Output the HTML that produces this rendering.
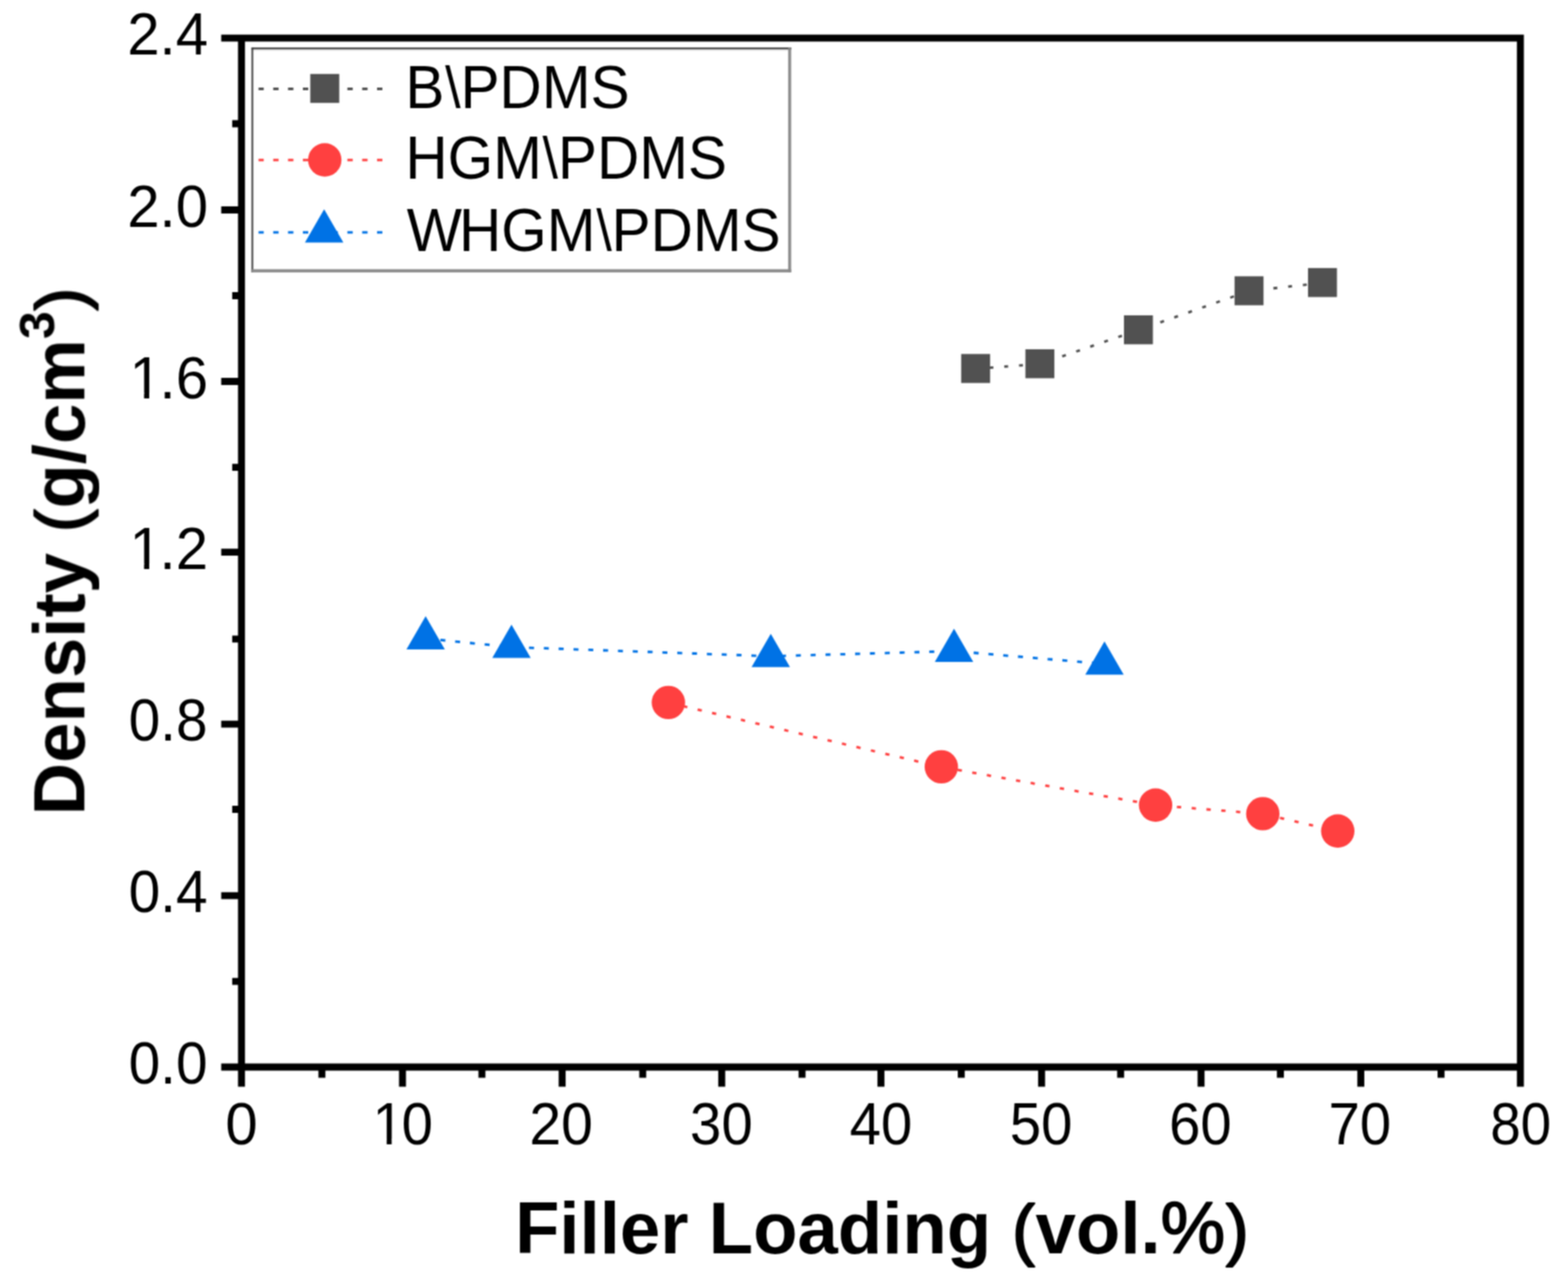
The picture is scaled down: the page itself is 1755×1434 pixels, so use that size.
<!DOCTYPE html>
<html lang="en"><head><meta charset="utf-8"><title>Density vs Filler Loading</title>
<style>
html,body{margin:0;padding:0;background:#fff;}
body{width:1755px;height:1434px;overflow:hidden;}
svg{display:block;}
text{font-family:"Liberation Sans",sans-serif;fill:#000;}
.tk{font-size:65px;}
.lg{font-size:65.5px;}
.ti{font-size:81.3px;font-weight:bold;}
.fb{font-weight:normal;stroke:#000;stroke-linejoin:round;}
</style></head><body>
<svg width="1755" height="1434" viewBox="0 0 1755 1434" role="img" aria-labelledby="ct cd">
<title id="ct">Density (g/cm3) versus Filler Loading (vol.%)</title>
<desc id="cd">Scatter-line chart with three series: B\PDMS, HGM\PDMS and WHGM\PDMS. X axis: Filler Loading (vol.%), 0 to 80. Y axis: Density (g/cm3), 0.0 to 2.4.</desc>
<rect x="0" y="0" width="1755" height="1434" fill="#fff"/>
<defs><filter id="soft" x="0" y="0" width="1755" height="1434" filterUnits="userSpaceOnUse" color-interpolation-filters="sRGB"><feConvolveMatrix order="3" kernelMatrix="1 2 1 2 4 2 1 2 1" edgeMode="duplicate" preserveAlpha="false"/></filter></defs>
<g filter="url(#soft)">
<g id="series-lines">
<polyline points="1092,412.8 1163.9,407.5 1274.2,369.5 1398,325.8 1480.2,316.6" fill="none" stroke="#515151" stroke-width="2.8" stroke-dasharray="4.4 12.2" stroke-dashoffset="1.1"/>
<polyline points="748.1,786.6 1053.6,858.6 1293.4,901.4 1413.4,911.1 1497.3,930.5" fill="none" stroke="#ff4040" stroke-width="2.8" stroke-dasharray="4.8 11.8" stroke-dashoffset="-0.4"/>
<polyline points="476.4,714.8 572.5,724.4 862.7,734.6 1067.8,728.9 1236.2,743.2" fill="none" stroke="#0072e5" stroke-width="2.8" stroke-dasharray="5.6 11" stroke-dashoffset="0"/>
</g>
<g id="series-markers">
<rect x="1075.8" y="396.3" width="32.4" height="32.4" fill="#515151"/>
<rect x="1147.7" y="391" width="32.4" height="32.4" fill="#515151"/>
<rect x="1258" y="353" width="32.4" height="32.4" fill="#515151"/>
<rect x="1381.8" y="309.3" width="32.4" height="32.4" fill="#515151"/>
<rect x="1464" y="300.1" width="32.4" height="32.4" fill="#515151"/>
<circle cx="748.1" cy="786.4" r="18.7" fill="#ff4040"/>
<circle cx="1053.6" cy="858.4" r="18.7" fill="#ff4040"/>
<circle cx="1293.4" cy="901.2" r="18.7" fill="#ff4040"/>
<circle cx="1413.4" cy="910.9" r="18.7" fill="#ff4040"/>
<circle cx="1497.3" cy="930.3" r="18.7" fill="#ff4040"/>
<polygon points="476.4,689.63 497.9,726.93 454.9,726.93" fill="#0072e5"/>
<polygon points="572.5,699.23 594,736.53 551,736.53" fill="#0072e5"/>
<polygon points="862.7,709.43 884.2,746.73 841.2,746.73" fill="#0072e5"/>
<polygon points="1067.8,703.73 1089.3,741.03 1046.3,741.03" fill="#0072e5"/>
<polygon points="1236.2,718.03 1257.7,755.33 1214.7,755.33" fill="#0072e5"/>
</g>
<path id="axes" fill="#000" fill-rule="nonzero" d="M247.6 38.7h1458v7.8h-1458zM247.6 1190.6h1458v7.8h-1458zM266.4 38.7h7.8v1177.9h-7.8zM1697.8 38.7h7.8v1177.9h-7.8zM259.9 134.6h10.4v7.8h-10.4zM247.6 231.1h22.7v7.8h-22.7zM259.9 327.1h10.4v7.8h-10.4zM247.6 423.1h22.7v7.8h-22.7zM259.9 519.2h10.4v7.8h-10.4zM247.6 614.3h22.7v7.8h-22.7zM259.9 711.4h10.4v7.8h-10.4zM247.6 806.7h22.7v7.8h-22.7zM259.9 902.1h10.4v7.8h-10.4zM247.6 998.7h22.7v7.8h-22.7zM259.9 1094.7h10.4v7.8h-10.4zM356.4 1194.5h7.8v11.9h-7.8zM446.6 1194.5h7.8v22.1h-7.8zM535.5 1194.5h7.8v11.9h-7.8zM625.3 1194.5h7.8v22.1h-7.8zM715.5 1194.5h7.8v11.9h-7.8zM803.9 1194.5h7.8v22.1h-7.8zM893.8 1194.5h7.8v11.9h-7.8zM982.1 1194.5h7.8v22.1h-7.8zM1072 1194.5h7.8v11.9h-7.8zM1161.9 1194.5h7.8v22.1h-7.8zM1250.4 1194.5h7.8v11.9h-7.8zM1340.4 1194.5h7.8v22.1h-7.8zM1429.2 1194.5h7.8v11.9h-7.8zM1519.2 1194.5h7.8v22.1h-7.8zM1609 1194.5h7.8v11.9h-7.8z"/>
<g id="ytick-labels" class="tk">
<text transform="translate(142.44 61.2) scale(1 1.012)">2.4</text>
<text transform="translate(142.44 253.6) scale(1 1.012)">2.0</text>
<text transform="translate(142.44 445.6) scale(1 1.012)"><tspan dx="2.5">1</tspan><tspan dx="-2.5">.6</tspan></text>
<rect x="148.39" y="439.69" width="12.89" height="7.41" fill="#fff"/>
<rect x="167.03" y="439.69" width="12.39" height="7.41" fill="#fff"/>
<text transform="translate(142.44 636.8) scale(1 1.012)"><tspan dx="2.5">1</tspan><tspan dx="-2.5">.2</tspan></text>
<rect x="148.39" y="630.89" width="12.89" height="7.41" fill="#fff"/>
<rect x="167.03" y="630.89" width="12.39" height="7.41" fill="#fff"/>
<text transform="translate(143.93 829.2) scale(0.978 1.012)">0.8</text>
<text transform="translate(143.93 1021.2) scale(0.978 1.012)">0.4</text>
<text transform="translate(143.93 1213.1) scale(0.978 1.012)">0.0</text>
</g>
<g id="xtick-labels" class="tk">
<text transform="translate(252.23 1281.2) scale(1 1.012)">0</text>
<text transform="translate(414.43 1281.2) scale(0.97 1.012)"><tspan dx="2.58">1</tspan><tspan dx="-2.58">0</tspan></text>
<rect x="420.24" y="1275.29" width="12.55" height="7.41" fill="#fff"/>
<rect x="438.36" y="1275.29" width="12.06" height="7.41" fill="#fff"/>
<text transform="translate(592.39 1281.2) scale(0.985 1.012)">20</text>
<text transform="translate(772.33 1281.2) scale(0.97 1.012)">30</text>
<text transform="translate(950.93 1281.2) scale(0.97 1.012)">40</text>
<text transform="translate(1130.13 1281.2) scale(0.97 1.012)">50</text>
<text transform="translate(1308.43 1281.2) scale(0.97 1.012)">60</text>
<text transform="translate(1487.03 1281.2) scale(0.97 1.012)">70</text>
<text transform="translate(1667.94 1281.2) scale(0.945 1.012)">80</text>
</g>
<text class="ti" text-anchor="middle" x="987" y="1403">Filler Loading <tspan class="fb" stroke-width="2.2" font-size="75.61" dx="0.95" dy="-1.4">(</tspan><tspan dx="0.95" dy="1.4">vol.</tspan><tspan class="fb" stroke-width="1.7">%</tspan><tspan class="fb" stroke-width="2.2" font-size="75.61" dx="0.95" dy="-1.4">)</tspan></text>
<text class="ti" text-anchor="middle" transform="translate(94.4 617.5) rotate(-90)">Density <tspan class="fb" stroke-width="2.2" font-size="75.61" dx="0.95" dy="-1.4">(</tspan><tspan dx="0.95" dy="1.4">g/cm</tspan><tspan font-size="56" dy="-34.4">3</tspan><tspan class="fb" stroke-width="2.2" font-size="75.61" dx="0.95" dy="33">)</tspan></text>
<g id="legend">
<rect x="282.5" y="54.3" width="601.3" height="248.8" fill="#fff"/>
<rect x="281.5" y="53.2" width="604.1" height="2.2" fill="#3c3c3c"/>
<rect x="283.4" y="55.3" width="598.6" height="1.4" fill="#dcdcdc"/>
<rect x="281.5" y="53.4" width="1.9" height="251.6" fill="#3c3c3c"/>
<rect x="882.2" y="53.3" width="3.3" height="251.6" fill="#8a8a8a"/>
<rect x="281.4" y="301.4" width="604.1" height="3.5" fill="#8a8a8a"/>
<polyline points="289.4,99.5 430,99.5" fill="none" stroke="#515151" stroke-width="2.8" stroke-dasharray="6 10.6" stroke-dashoffset="0.2"/>
<rect x="347.3" y="82.8" width="32.4" height="32.4" fill="#515151"/>
<text transform="translate(453.73 121) scale(0.9588 1)" font-size="68.32">B<tspan font-size="64.84" dx="0.89" dy="-1.1">\</tspan><tspan dx="-0.11" dy="1.1">PDMS</tspan></text>
<polyline points="289.4,179.1 430,179.1" fill="none" stroke="#ff4040" stroke-width="2.8" stroke-dasharray="6 10.6" stroke-dashoffset="0.2"/>
<circle cx="363.5" cy="179" r="18.7" fill="#ff4040"/>
<text transform="translate(453.73 200.4) scale(0.9588 1)" font-size="68.32">HGM<tspan font-size="64.84" dx="0.89" dy="-1.1">\</tspan><tspan dx="-0.11" dy="1.1">PDMS</tspan></text>
<polyline points="289.4,260.2 430,260.2" fill="none" stroke="#0072e5" stroke-width="2.8" stroke-dasharray="6 10.6" stroke-dashoffset="0.2"/>
<polygon points="362.8,234.13 384.3,271.43 341.3,271.43" fill="#0072e5"/>
<text transform="translate(455.31 280.6) scale(0.9588 1)" font-size="68.32">W<tspan dx="-3.5">HGM</tspan><tspan font-size="64.84" dx="0.89" dy="-1.1">\</tspan><tspan dx="-0.11" dy="1.1">PDMS</tspan></text>
</g>
</g>
</svg>
</body></html>
